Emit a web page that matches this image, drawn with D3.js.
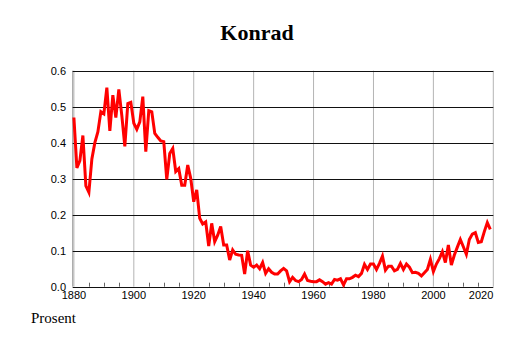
<!DOCTYPE html>
<html>
<head>
<meta charset="utf-8">
<script src="https://cdn.jsdelivr.net/npm/d3@7"></script>
<style>
  body { margin: 0; background: #fff; }
  svg { display: block; }
</style>
</head>
<body>
<svg id="chart" width="514" height="343"></svg>
<script>
// share of newborns named Konrad, in percent
const startYear = 1880;
const values = [
  0.47, 0.33, 0.35, 0.42, 0.28, 0.262, 0.355, 0.40, 0.43, 0.486,
  0.48, 0.553, 0.433, 0.532, 0.47, 0.548, 0.475, 0.39, 0.509, 0.512,
  0.454, 0.437, 0.458, 0.528, 0.375, 0.489, 0.486, 0.426, 0.415, 0.405,
  0.403, 0.298, 0.37, 0.384, 0.32, 0.328, 0.282, 0.282, 0.338, 0.301,
  0.236, 0.269, 0.19, 0.174, 0.18, 0.113, 0.176, 0.125, 0.143, 0.167,
  0.116, 0.116, 0.074, 0.102, 0.09, 0.088, 0.087, 0.035, 0.1, 0.06,
  0.054, 0.06, 0.05, 0.067, 0.037, 0.05, 0.04, 0.035, 0.035, 0.044,
  0.051, 0.044, 0.014, 0.026, 0.017, 0.014, 0.02, 0.035, 0.017, 0.015,
  0.014, 0.014, 0.019, 0.014, 0.007, 0.011, 0.007, 0.02, 0.018, 0.022,
  0.005, 0.022, 0.022, 0.026, 0.032, 0.028, 0.037, 0.062, 0.048, 0.063,
  0.063, 0.048, 0.065, 0.085, 0.046, 0.057, 0.057, 0.044, 0.048, 0.065,
  0.048, 0.063, 0.054, 0.039, 0.04, 0.037, 0.03, 0.039, 0.048, 0.076,
  0.042, 0.063, 0.078, 0.097, 0.067, 0.116, 0.06, 0.088, 0.11, 0.131,
  0.111, 0.09, 0.131, 0.146, 0.15, 0.123, 0.125, 0.153, 0.178, 0.159
];
const years = values.map((v, i) => startYear + i);
const xTicks = [1880, 1900, 1920, 1940, 1960, 1980, 2000, 2020];
const yTicks = [0, 0.1, 0.2, 0.3, 0.4, 0.5, 0.6];

const svg = d3.select("#chart");
const plotLeft = 72.7, plotRight = 493.3, plotTop = 70.7, plotBottom = 286.7;

const x = d3.scaleLinear().domain([1879.6, 2020]).range([plotLeft, plotRight]);
const y = d3.scaleLinear().domain([0, 0.6]).range([plotBottom, plotTop]);

// title
svg.append("text")
    .attr("x", 257).attr("y", 40)
    .attr("text-anchor", "middle")
    .style("font-family", "'Liberation Serif', 'Times New Roman', serif")
    .style("font-weight", "bold")
    .style("font-size", "22px")
    .text("Konrad");

// vertical grid
svg.append("g")
    .selectAll("line")
    .data(xTicks)
    .join("line")
    .attr("x1", (d) => x(d)).attr("x2", (d) => x(d))
    .attr("y1", plotTop).attr("y2", plotBottom)
    .attr("stroke", "#b4b4b4")
    .attr("stroke-width", 1);

svg.append("line")
    .attr("x1", plotLeft).attr("x2", plotLeft)
    .attr("y1", plotTop).attr("y2", plotBottom)
    .attr("stroke", "#9a9a9a");

// horizontal grid
svg.append("g")
    .selectAll("line")
    .data(yTicks)
    .join("line")
    .attr("x1", plotLeft).attr("x2", plotRight)
    .attr("y1", (d) => Math.round(y(d)) + 0.5).attr("y2", (d) => Math.round(y(d)) + 0.5)
    .attr("stroke", "#111")
    .attr("stroke-width", 1);

// minor ticks every 5 years
svg.append("g")
    .selectAll("line")
    .data(d3.range(1885, 2020, 5).filter((d) => d % 20 != 0))
    .join("line")
    .attr("x1", (d) => Math.round(x(d)) + 0.5).attr("x2", (d) => Math.round(x(d)) + 0.5)
    .attr("y1", plotBottom - 4).attr("y2", plotBottom)
    .attr("stroke", "#666");

// y labels
svg.append("g")
    .selectAll("text")
    .data(yTicks)
    .join("text")
    .attr("x", 66).attr("y", (d) => y(d) + 4)
    .attr("text-anchor", "end")
    .style("font-family", "'Liberation Sans', Arial, sans-serif")
    .style("font-size", "11px")
    .text((d) => d.toFixed(1));

// x labels
svg.append("g")
    .selectAll("text")
    .data(xTicks)
    .join("text")
    .attr("x", (d) => d == 2020 ? plotRight : x(d))
    .attr("y", 298.5)
    .attr("text-anchor", (d) => d == 2020 ? "end" : "middle")
    .style("font-family", "'Liberation Sans', Arial, sans-serif")
    .style("font-size", "11px")
    .text((d) => d);

// data line
const line = d3.line()
    .x((d, i) => x(years[i]))
    .y((d) => y(d));

svg.append("path")
    .datum(values)
    .attr("d", line)
    .attr("fill", "none")
    .attr("stroke", "#ff0000")
    .attr("stroke-width", 3)
    .attr("stroke-linejoin", "miter");

svg.append("text")
    .attr("x", 31).attr("y", 322.5)
    .style("font-family", "'Liberation Serif', 'Times New Roman', serif")
    .style("font-size", "15px")
    .text("Prosent");
</script>
</body>
</html>
